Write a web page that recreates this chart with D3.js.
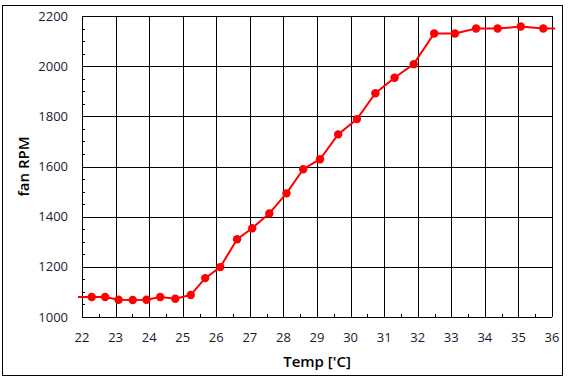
<!DOCTYPE html>
<html lang="en">
<head>
  <meta charset="UTF-8">
  <title>fan RPM vs Temp</title>
  <style>
    body { margin: 0; background: #fff; }
    svg { display: block; font-family: "Open Sans", "Noto Sans", sans-serif; }
  </style>
  <script src="https://d3js.org/d3.v7.min.js"></script>
</head>
<body>
  <svg width="569" height="381"></svg>

  <script>
    // data
    var temps = [22.29, 22.69, 23.09, 23.51, 23.92, 24.33, 24.78, 25.24, 25.67, 26.12,
                 26.62, 27.07, 27.58, 28.09, 28.59, 29.09, 29.63, 30.19, 30.74, 31.31,
                 31.88, 32.49, 33.11, 33.74, 34.38, 35.07, 35.74];
    var rpms = [1080, 1080, 1069, 1068, 1069, 1080, 1073, 1088, 1155, 1199,
                1310, 1354, 1413, 1493, 1589, 1629, 1728, 1789, 1892, 1954,
                2008, 2130, 2130, 2150, 2150, 2158, 2150];
    // the line runs a bit past the plot on both sides
    var lineStart = [21.88, 1080];
    var lineEnd = [36.09, 2150];

    var xTicks = [22, 23, 24, 25, 26, 27, 28, 29, 30, 31, 32, 33, 34, 35, 36];
    var yTicks = [1000, 1200, 1400, 1600, 1800, 2000, 2200];

    var svg = d3.select("svg");
    var pLeft = 82, pRight = 552, pTop = 16, pBottom = 317;

    var x = d3.scaleLinear().domain([22, 36]).range([pLeft, pRight]);
    var y = d3.scaleLinear().domain([1000, 2200]).range([pBottom, pTop]);

    // outer frame
    svg.append("rect")
      .attr("x", 2.5).attr("y", 5.5)
      .attr("width", 560).attr("height", 370)
      .attr("fill", "none").attr("stroke", "#000").attr("stroke-width", 1);

    // grid
    var g = svg.append("g");
    g.selectAll(".vgrid").data(xTicks).enter().append("line")
      .attr("x1", d => Math.round(x(d)) + 0.5).attr("x2", d => Math.round(x(d)) + 0.5)
      .attr("y1", pTop).attr("y2", pBottom)
      .attr("stroke", "#000");
    g.selectAll(".hgrid").data(yTicks).enter().append("line")
      .attr("x1", pLeft).attr("x2", pRight)
      .attr("y1", d => Math.round(y(d)) + 0.5).attr("y2", d => Math.round(y(d)) + 0.5)
      .attr("stroke", "#000");

    // minor ticks (inside the plot)
    var xMinor = d3.range(22.5, 36, 1);
    g.selectAll(".xminor").data(xMinor).enter().append("line")
      .attr("x1", d => Math.round(x(d)) + 0.5).attr("x2", d => Math.round(x(d)) + 0.5)
      .attr("y1", pBottom).attr("y2", pBottom - 3)
      .attr("stroke", "#000");
    var yMinor = d3.range(1050, 2200, 50).filter(d => d % 200 !== 0);
    g.selectAll(".yminor").data(yMinor).enter().append("line")
      .attr("x1", pLeft).attr("x2", pLeft + 3)
      .attr("y1", d => Math.round(y(d)) + 0.5).attr("y2", d => Math.round(y(d)) + 0.5)
      .attr("stroke", "#000");

    // tick labels
    svg.selectAll(".xlab").data(xTicks).enter().append("text")
      .attr("x", d => x(d)).attr("y", 342)
      .attr("text-anchor", "middle")
      .attr("font-size", 13).attr("fill", "#1a1a2e")
      .text(d => d);
    svg.selectAll(".ylab").data(yTicks).enter().append("text")
      .attr("x", 68).attr("y", d => y(d) + 4.5)
      .attr("text-anchor", "end")
      .attr("font-size", 13).attr("fill", "#1a1a2e")
      .text(d => d);

    // axis titles
    svg.append("text")
      .attr("x", (pLeft + pRight) / 2).attr("y", 367)
      .attr("text-anchor", "middle")
      .attr("font-size", 15).attr("font-weight", 600)
      .text("Temp ['C]");
    svg.append("text")
      .attr("transform", "translate(29," + ((pTop + pBottom) / 2) + ") rotate(-90)")
      .attr("text-anchor", "middle")
      .attr("font-size", 15).attr("font-weight", 600)
      .text("fan RPM");

    // series
    var pts = temps.map((t, i) => [t, rpms[i]]);
    var linePts = [lineStart].concat(pts, [lineEnd]);
    var line = d3.line().x(d => x(d[0])).y(d => y(d[1]));
    svg.append("path")
      .datum(linePts)
      .attr("d", line)
      .attr("fill", "none")
      .attr("stroke", "#ff0000")
      .attr("stroke-width", 2);
    svg.selectAll(".pt").data(pts).enter().append("circle")
      .attr("cx", d => x(d[0])).attr("cy", d => y(d[1]))
      .attr("r", 4.2)
      .attr("fill", "#ff0000");
  </script>
</body>
</html>
